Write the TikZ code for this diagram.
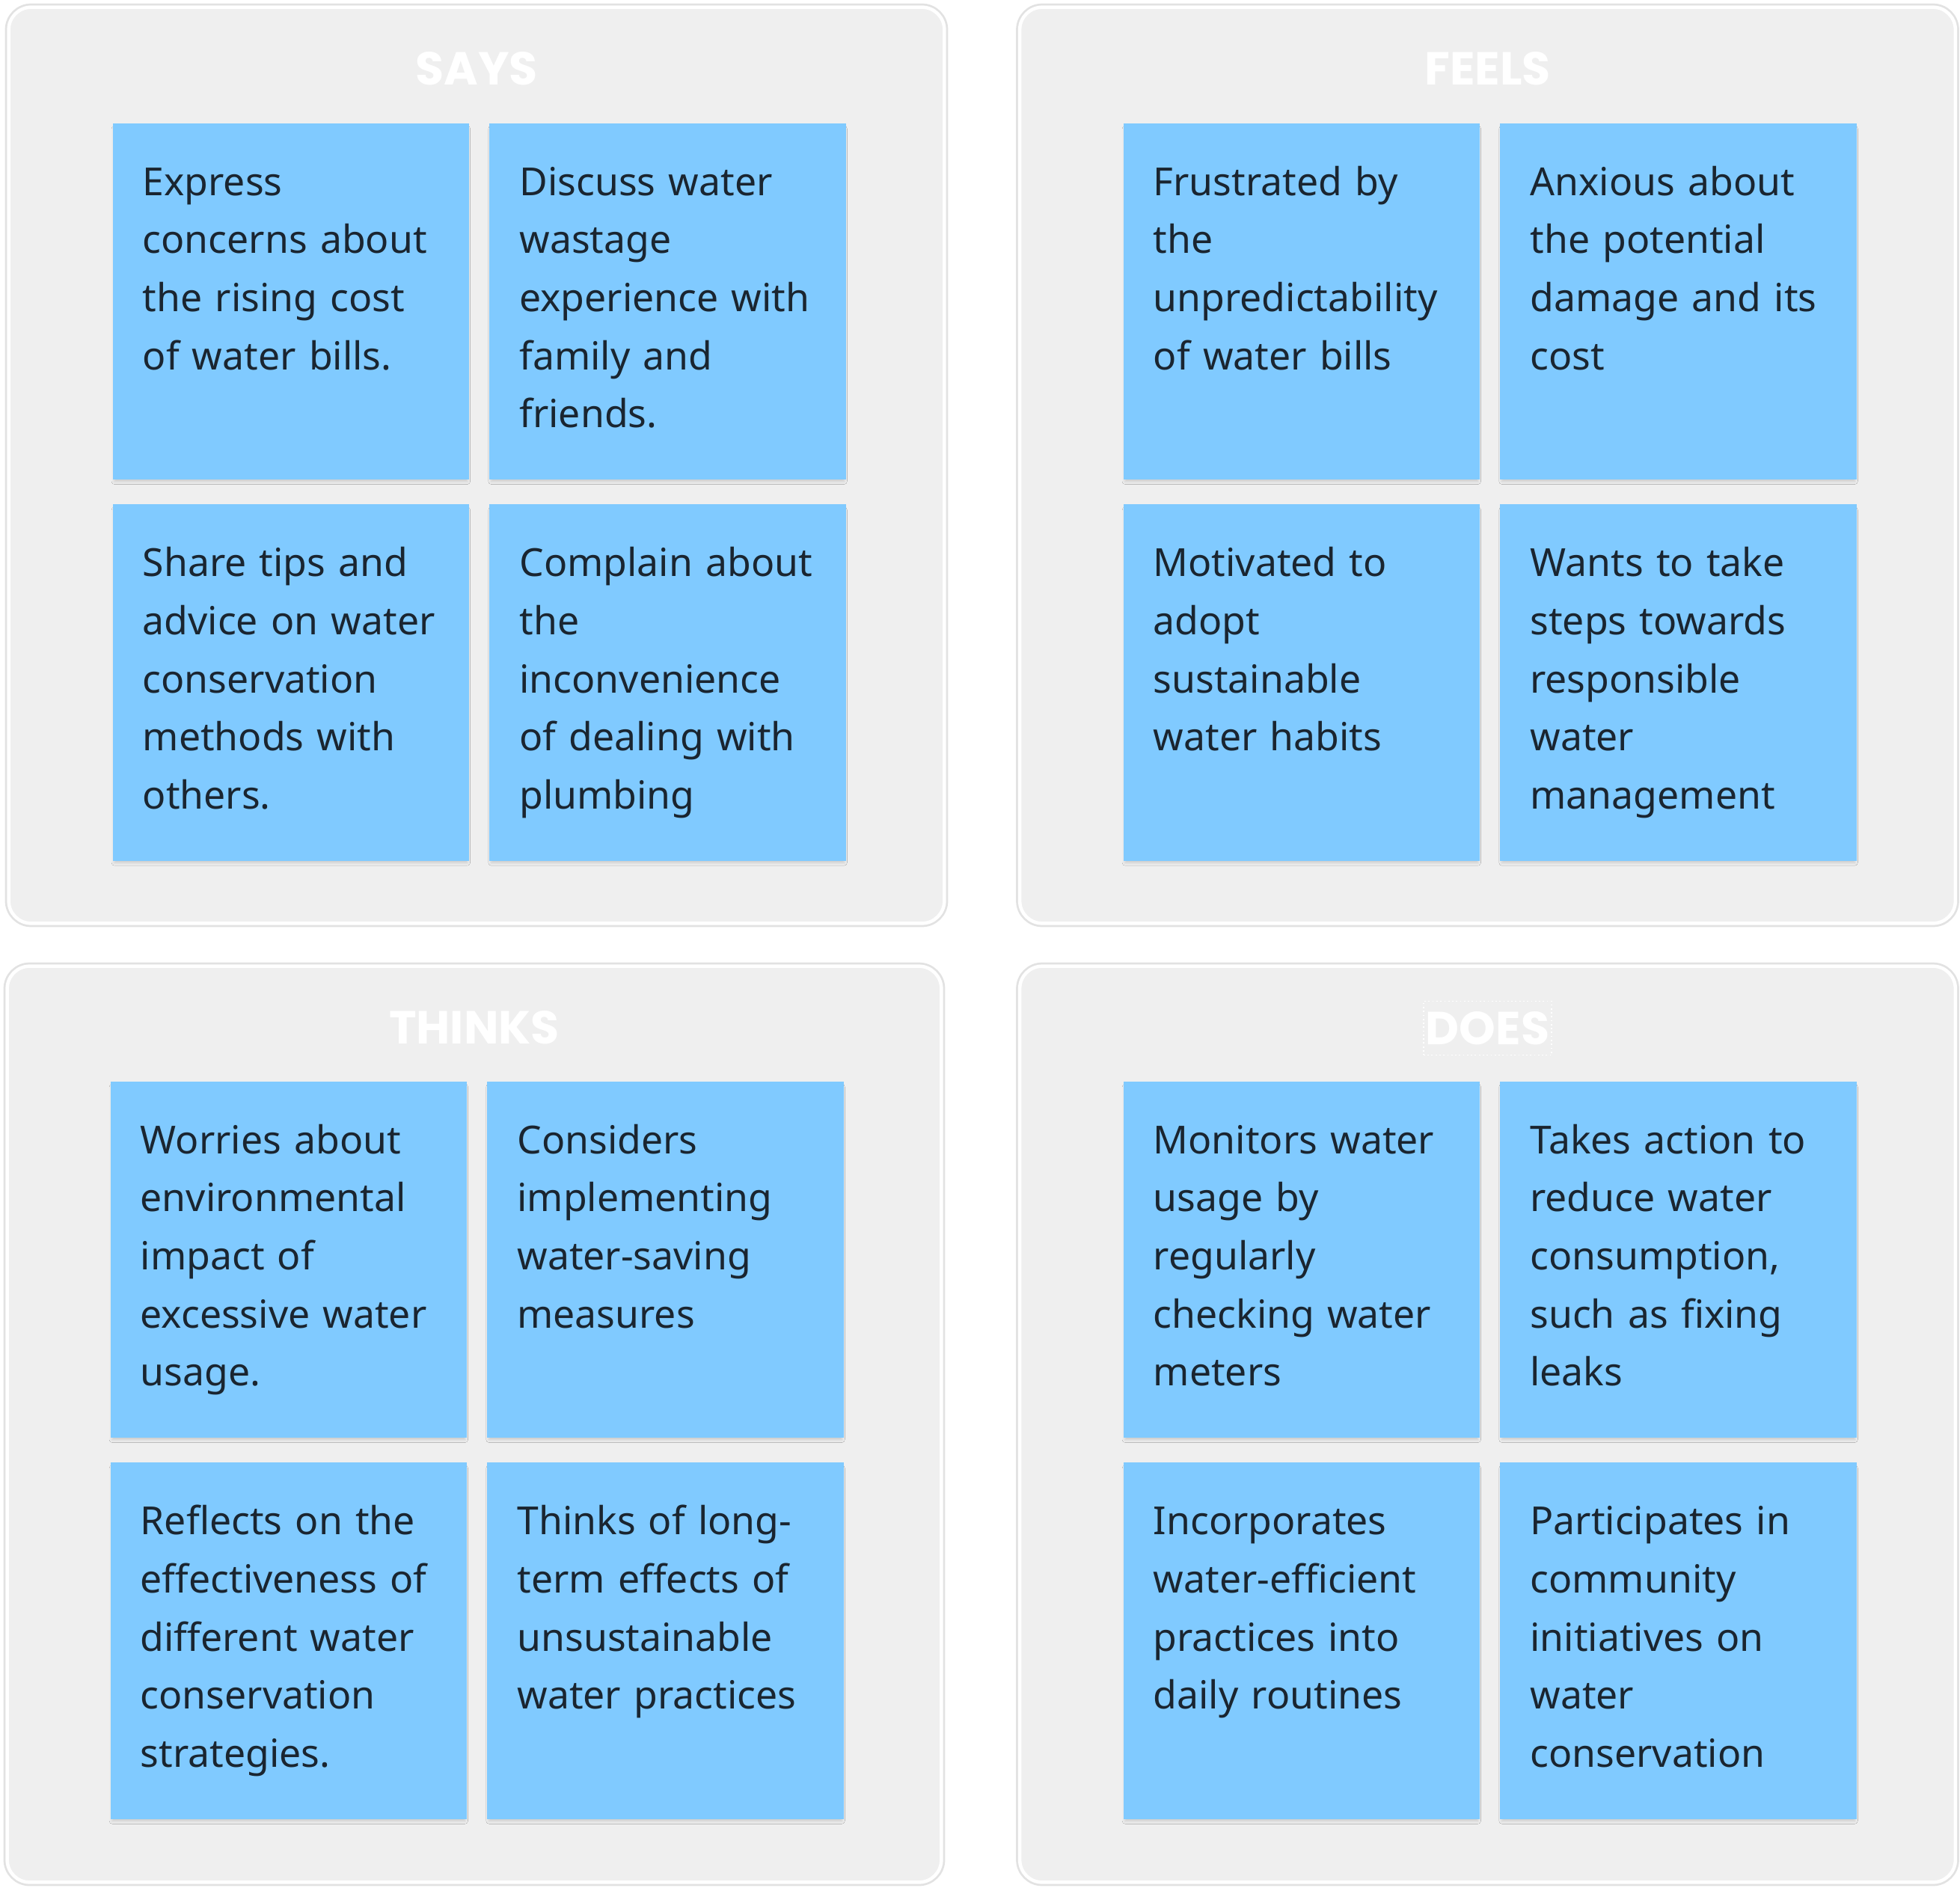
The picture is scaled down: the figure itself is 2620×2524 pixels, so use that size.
\documentclass[tikz,border=0pt]{standalone}
\usepackage{fontspec}
\setmainfont{Noto Sans}
\newfontfamily\headfont{Poppins}
\usetikzlibrary{positioning,shadows.blur}
\definecolor{board}{RGB}{239,239,239}
\definecolor{halo}{RGB}{226,226,226}
\definecolor{note}{RGB}{128,202,255}
\definecolor{ink}{RGB}{26,37,48}

\begin{document}
\begin{tikzpicture}[
    x=0.01cm, y=-0.01cm,
    node distance=0.32cm and 0.26cm,
    panel/.style={
        fill=board,
        draw=white,
        line width=0.045cm,
        preaction={draw=halo, line width=0.1cm},
        rounded corners=0.3cm,
        minimum width=12.5cm,
        minimum height=12.24cm,
        inner sep=0
    },
    heading/.style={
        font=\headfont\bfseries\fontsize{17.6pt}{20pt}\selectfont,
        text=white,
        anchor=base,
        inner xsep=0.03cm, inner ysep=0,
        text height=0.58cm, text depth=0.14cm
    },
    sticky/.style={
        fill=note,
        minimum size=4.76cm,
        inner sep=0,
        blur shadow={shadow xshift=0cm, shadow yshift=-0.05cm, shadow scale=0.99,
            shadow blur radius=0.04cm, shadow opacity=16}
    },
    notetext/.style={
        font=\fontsize{14.7pt}{22.1pt}\selectfont,
        text=ink,
        text width=4.3cm,
        align=left,
        inner sep=0,
        anchor=base west
    }
]
\useasboundingbox (0,0) rectangle (2620,2524);

% quadrants
\node[panel] (says) at (637,622) {};
\node[panel] (feels) at (1988.5,622) {};
\node[panel, minimum width=12.48cm] (thinks) at (634,1904) {};
\node[panel] (does) at (1988.5,1904) {};

\node[heading] (saystitle) at ([yshift=-1.06cm]says.north) {SAYS};
\node[heading] (feelstitle) at ([yshift=-1.06cm]feels.north) {FEELS};
\node[heading] (thinkstitle) at ([yshift=-1.06cm]thinks.north) {THINKS};
\node[heading, draw=white, densely dotted, line width=0.5pt] (doestitle)
    at ([yshift=-1.07cm]does.north) {DOES};

% says
\node[sticky, anchor=north west] (says1) at (150,164) {};
\node[sticky, right=of says1] (says2) {};
\node[sticky, below=of says1] (says3) {};
\node[sticky, right=of says3] (says4) {};
\node[notetext] (says1txt) at ([shift={(0.4cm,-0.97cm)}]says1.north west)
{Express\\
concerns about\\
the rising cost\\
of water bills.};
\node[notetext] (says2txt) at ([shift={(0.4cm,-0.97cm)}]says2.north west)
{Discuss water\\
wastage\\
experience with\\
family and\\
friends.};
\node[notetext] (says3txt) at ([shift={(0.4cm,-0.97cm)}]says3.north west)
{Share tips and\\
advice on water\\
conservation\\
methods with\\
others.};
\node[notetext] (says4txt) at ([shift={(0.4cm,-0.97cm)}]says4.north west)
{Complain about\\
the\\
inconvenience\\
of dealing with\\
plumbing};

% feels
\node[sticky, anchor=north west] (feels1) at (1501,164) {};
\node[sticky, right=of feels1] (feels2) {};
\node[sticky, below=of feels1] (feels3) {};
\node[sticky, right=of feels3] (feels4) {};
\node[notetext] (feels1txt) at ([shift={(0.4cm,-0.97cm)}]feels1.north west)
{Frustrated by\\
the\\
unpredictability\\
of water bills};
\node[notetext] (feels2txt) at ([shift={(0.4cm,-0.97cm)}]feels2.north west)
{Anxious about\\
the potential\\
damage and its\\
cost};
\node[notetext] (feels3txt) at ([shift={(0.4cm,-0.97cm)}]feels3.north west)
{Motivated to\\
adopt\\
sustainable\\
water habits};
\node[notetext] (feels4txt) at ([shift={(0.4cm,-0.97cm)}]feels4.north west)
{Wants to take\\
steps towards\\
responsible\\
water\\
management};

% thinks
\node[sticky, anchor=north west] (thinks1) at (147,1445) {};
\node[sticky, right=of thinks1] (thinks2) {};
\node[sticky, below=of thinks1] (thinks3) {};
\node[sticky, right=of thinks3] (thinks4) {};
\node[notetext] (thinks1txt) at ([shift={(0.4cm,-0.97cm)}]thinks1.north west)
{Worries about\\
environmental\\
impact of\\
excessive water\\
usage.};
\node[notetext] (thinks2txt) at ([shift={(0.4cm,-0.97cm)}]thinks2.north west)
{Considers\\
implementing\\
water-saving\\
measures};
\node[notetext] (thinks3txt) at ([shift={(0.4cm,-0.97cm)}]thinks3.north west)
{Reflects on the\\
effectiveness of\\
different water\\
conservation\\
strategies.};
\node[notetext] (thinks4txt) at ([shift={(0.4cm,-0.97cm)}]thinks4.north west)
{Thinks of long-\\
term effects of\\
unsustainable\\
water practices};

% does
\node[sticky, anchor=north west] (does1) at (1501,1445) {};
\node[sticky, right=of does1] (does2) {};
\node[sticky, below=of does1] (does3) {};
\node[sticky, right=of does3] (does4) {};
\node[notetext] (does1txt) at ([shift={(0.4cm,-0.97cm)}]does1.north west)
{Monitors water\\
usage by\\
regularly\\
checking water\\
meters};
\node[notetext] (does2txt) at ([shift={(0.4cm,-0.97cm)}]does2.north west)
{Takes action to\\
reduce water\\
consumption,\\
such as fixing\\
leaks};
\node[notetext] (does3txt) at ([shift={(0.4cm,-0.97cm)}]does3.north west)
{Incorporates\\
water-efficient\\
practices into\\
daily routines};
\node[notetext] (does4txt) at ([shift={(0.4cm,-0.97cm)}]does4.north west)
{Participates in\\
community\\
initiatives on\\
water\\
conservation};
\end{tikzpicture}
\end{document}
